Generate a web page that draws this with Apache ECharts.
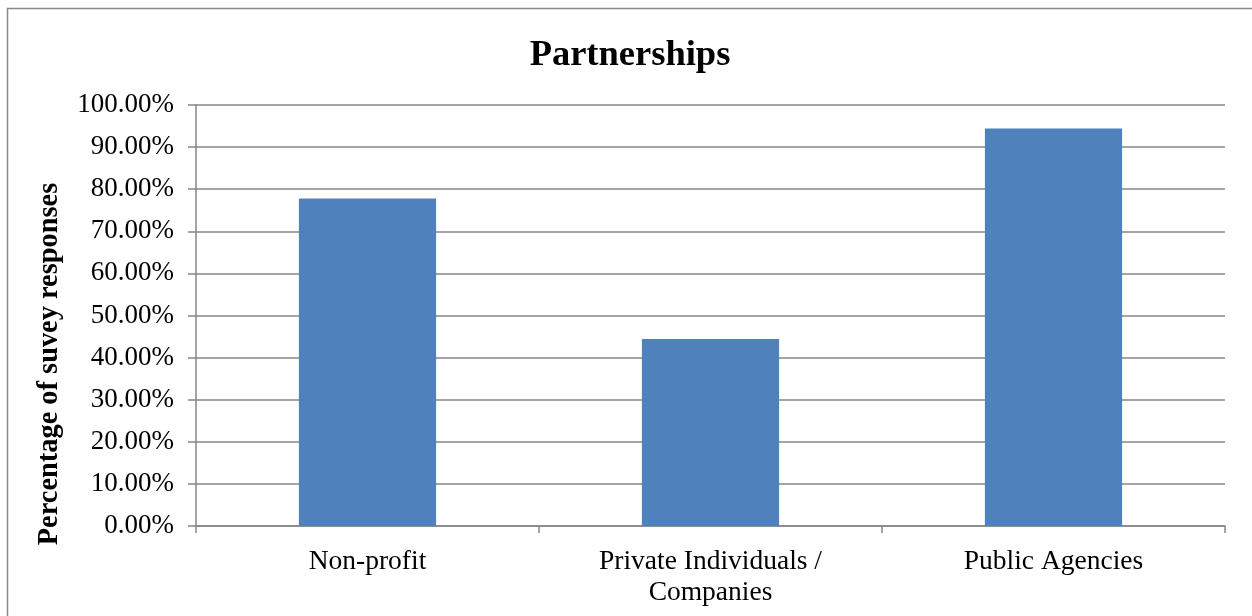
<!DOCTYPE html>
<html>
<head>
<meta charset="utf-8">
<script src="https://cdn.jsdelivr.net/npm/echarts@6/dist/echarts.min.js"></script>
<style>html,body{margin:0;padding:0;background:#fff;}#c{width:1252px;height:616px;}</style>
</head>
<body>
<div id="c"></div>
<script>
const categories = ['Non-profit', 'Private Individuals /\nCompanies', 'Public Agencies'];
const values = [77.78, 44.44, 94.44];
const titleText = 'Partnerships';
const yTitle = 'Percentage of suvey responses';

const FONT = '"Liberation Serif", "Times New Roman", serif';
const chart = echarts.init(document.getElementById('c'), null, {renderer: 'canvas'});
chart.setOption({
  animation: false,
  backgroundColor: '#ffffff',
  title: {
    text: titleText,
    left: 625, top: 32, textAlign: 'center',
    textStyle: {fontFamily: FONT, fontWeight: 'bold', fontSize: 36.5, color: '#000'}
  },
  graphic: [
    {type: 'rect', shape: {x: 7.5, y: 8.5, width: 1300, height: 700},
     style: {fill: 'none', stroke: '#8a8a8a', lineWidth: 1.5}, silent: true},
    {type: 'text', x: 50, y: 364, rotation: Math.PI / 2,
     style: {text: yTitle, font: 'bold 28.4px ' + FONT, fill: '#000', textAlign: 'center', textVerticalAlign: 'middle'}}
  ],
  grid: {left: 196, top: 105, right: 27, bottom: 90, containLabel: false},
  xAxis: {
    type: 'category',
    data: categories,
    axisLine: {show: true, lineStyle: {color: '#868686', width: 1.5}},
    axisTick: {show: true, length: 7, alignWithLabel: false, lineStyle: {color: '#868686', width: 1.5}},
    axisLabel: {fontFamily: FONT, fontSize: 27.5, color: '#000', margin: 20, lineHeight: 31, interval: 0}
  },
  yAxis: {
    type: 'value', min: 0, max: 100, interval: 10,
    axisLine: {show: true, lineStyle: {color: '#868686', width: 1.5}},
    axisTick: {show: true, length: 8, lineStyle: {color: '#868686', width: 1.5}},
    splitLine: {show: true, lineStyle: {color: '#868686', width: 1.5}},
    axisLabel: {fontFamily: FONT, fontSize: 27, color: '#000', margin: 22,
      formatter: v => v.toFixed(2) + '%'}
  },
  series: [{
    type: 'bar', data: values, barCategoryGap: '60%',
    itemStyle: {color: '#4f81bd'}
  }]
});
</script>
</body>
</html>
